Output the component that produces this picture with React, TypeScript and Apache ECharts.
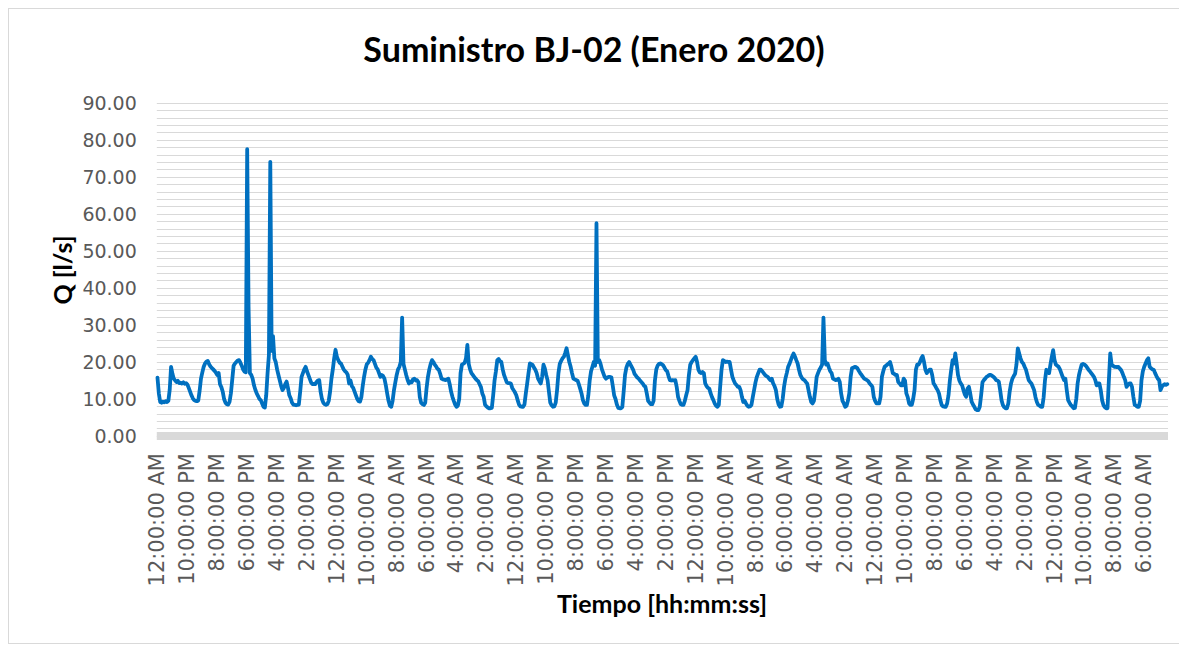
import React, { useEffect, useRef } from "react";
import * as echarts from "echarts";

// Hour-of-day tick labels (Excel time format)
const hourLabels = [
  "12:00:00 AM", "1:00:00 AM", "2:00:00 AM", "3:00:00 AM", "4:00:00 AM", "5:00:00 AM",
  "6:00:00 AM", "7:00:00 AM", "8:00:00 AM", "9:00:00 AM", "10:00:00 AM", "11:00:00 AM",
  "12:00:00 PM", "1:00:00 PM", "2:00:00 PM", "3:00:00 PM", "4:00:00 PM", "5:00:00 PM",
  "6:00:00 PM", "7:00:00 PM", "8:00:00 PM", "9:00:00 PM", "10:00:00 PM", "11:00:00 PM",
];

// Hourly flow Q [l/s], January 2020, one array per day
const ene01 = [15.8, 11.5, 9.2, 9.0, 9.3, 9.1, 9.4, 9.2, 9.5, 12.5, 18.7, 16.8, 15.5, 15.0, 14.6, 14.9, 14.3, 14.4, 14.2, 14.5, 14.1, 14.3, 13.9, 13.0];
const ene02 = [12.0, 11.0, 10.2, 9.7, 9.5, 9.4, 9.6, 12.2, 15.5, 17.2, 18.7, 19.6, 20.1, 20.3, 19.4, 18.8, 18.4, 18.0, 17.6, 17.1, 16.5, 17.0, 14.0, 13.2];
const ene03 = [12.0, 10.0, 9.0, 8.6, 8.5, 9.2, 11.5, 15.2, 19.0, 19.6, 20.0, 20.4, 20.5, 19.8, 19.0, 18.0, 17.4, 17.2, 77.5, 35.0, 17.0, 16.5, 15.5, 13.7];
const ene04 = [12.5, 11.5, 10.8, 10.0, 9.7, 8.8, 7.9, 7.7, 11.0, 17.0, 22.0, 74.1, 23.0, 27.0, 21.0, 20.0, 18.0, 16.5, 15.0, 13.5, 12.4, 13.0, 14.0, 14.7];
const ene05 = [13.0, 11.0, 10.2, 9.0, 8.5, 8.4, 8.3, 8.4, 8.5, 12.0, 16.0, 17.0, 18.0, 18.7, 17.5, 16.5, 15.5, 14.5, 14.0, 14.1, 14.0, 14.6, 15.0, 15.1];
const ene06 = [12.0, 10.0, 9.0, 8.6, 8.4, 8.6, 9.5, 12.0, 15.5, 18.0, 21.0, 23.3, 21.4, 20.5, 19.8, 19.6, 18.8, 18.0, 17.5, 17.2, 16.5, 14.2, 15.0, 13.5];
const ene07 = [13.0, 12.0, 11.0, 10.0, 9.4, 9.3, 10.5, 13.5, 16.0, 18.0, 19.4, 19.8, 20.5, 21.4, 20.8, 20.5, 19.5, 18.5, 18.0, 17.0, 16.0, 16.5, 16.2, 15.5];
const ene08 = [13.7, 11.5, 9.5, 8.2, 7.9, 9.5, 12.4, 14.5, 16.5, 18.0, 18.7, 20.0, 32.0, 19.5, 18.0, 16.5, 15.2, 14.2, 14.7, 14.5, 15.3, 15.5, 15.0, 15.1];
const ene09 = [14.5, 10.5, 9.0, 8.6, 8.4, 9.0, 13.0, 16.0, 18.0, 19.5, 20.5, 20.0, 19.3, 18.8, 18.2, 17.9, 16.8, 15.5, 15.3, 15.2, 15.1, 15.3, 15.5, 14.0];
const ene10 = [12.0, 10.6, 9.5, 8.5, 7.9, 8.2, 10.0, 17.0, 19.3, 19.5, 19.8, 21.0, 24.6, 19.5, 18.0, 17.0, 16.5, 16.0, 15.5, 15.1, 14.8, 14.0, 13.2, 11.5];
const ene11 = [10.6, 8.5, 8.0, 7.7, 7.5, 7.5, 7.6, 11.0, 15.0, 17.5, 20.5, 20.8, 20.2, 20.0, 18.0, 16.5, 15.5, 14.5, 14.3, 14.3, 14.2, 13.0, 12.4, 11.8];
const ene12 = [11.0, 9.7, 8.5, 8.0, 7.9, 7.9, 8.5, 11.5, 14.2, 17.0, 19.6, 19.4, 19.2, 18.5, 17.9, 17.0, 15.5, 14.8, 14.2, 16.0, 19.3, 18.3, 16.5, 15.1];
const ene13 = [12.0, 9.0, 8.3, 7.9, 8.0, 9.0, 12.4, 17.0, 19.5, 20.3, 21.0, 21.4, 22.5, 23.7, 21.8, 20.0, 18.7, 17.0, 15.5, 15.3, 15.1, 15.0, 14.0, 12.8];
const ene14 = [11.5, 9.7, 8.8, 8.4, 8.4, 11.0, 15.0, 17.5, 18.7, 20.0, 19.0, 57.5, 20.0, 20.5, 19.5, 18.0, 17.0, 16.0, 15.5, 15.8, 16.0, 16.0, 15.8, 13.5];
const ene15 = [11.0, 10.0, 8.5, 7.6, 7.5, 7.5, 7.8, 12.0, 16.5, 18.5, 19.5, 20.0, 19.3, 18.6, 17.9, 16.8, 16.3, 15.8, 15.5, 15.0, 14.6, 14.2, 13.6, 13.3];
const ene16 = [11.5, 9.5, 9.0, 8.6, 8.6, 9.5, 15.0, 18.0, 19.0, 19.5, 19.6, 19.4, 19.1, 18.5, 17.8, 17.5, 16.2, 15.1, 15.0, 15.1, 15.0, 15.1, 13.3, 10.6];
const ene17 = [9.5, 8.6, 8.4, 8.4, 9.5, 11.0, 12.4, 16.5, 19.3, 20.0, 20.5, 21.0, 21.4, 20.0, 17.9, 17.2, 17.0, 17.3, 17.0, 14.2, 13.5, 13.0, 12.8, 11.5];
const ene18 = [10.5, 9.7, 8.8, 8.2, 7.9, 8.4, 13.3, 17.9, 20.5, 20.3, 20.0, 20.1, 20.0, 20.0, 17.9, 16.0, 15.0, 14.2, 13.8, 13.3, 13.3, 12.4, 10.6, 9.2];
const ene19 = [9.5, 8.8, 8.2, 7.9, 8.0, 8.4, 10.5, 12.5, 14.5, 16.0, 17.0, 17.9, 17.9, 17.5, 17.0, 16.5, 16.2, 16.0, 15.5, 15.1, 15.5, 14.2, 13.5, 12.4];
const ene20 = [10.0, 8.5, 7.9, 8.0, 10.0, 13.3, 15.5, 17.0, 18.7, 19.5, 20.5, 21.5, 22.3, 21.5, 20.5, 19.6, 17.9, 16.5, 15.8, 15.3, 15.1, 14.6, 14.2, 12.4];
const ene21 = [10.6, 9.2, 8.8, 9.5, 12.4, 16.0, 17.0, 17.9, 18.5, 19.3, 32.0, 20.5, 19.3, 19.6, 18.5, 17.5, 17.0, 15.5, 15.3, 15.1, 15.2, 15.5, 14.6, 11.5];
const ene22 = [9.5, 8.8, 7.9, 8.2, 9.5, 11.5, 16.0, 18.3, 18.5, 18.7, 18.6, 18.3, 17.6, 17.0, 16.5, 16.0, 15.5, 15.3, 15.1, 14.8, 14.2, 13.8, 13.3, 10.6];
const ene23 = [9.5, 8.8, 8.8, 8.8, 10.6, 16.0, 17.5, 18.7, 19.0, 19.3, 19.6, 20.0, 18.7, 17.0, 16.8, 16.5, 16.5, 14.6, 14.2, 13.7, 13.7, 15.5, 15.0, 11.5];
const ene24 = [10.5, 8.8, 8.4, 8.4, 10.0, 12.4, 17.9, 19.3, 19.3, 20.0, 21.0, 21.6, 20.0, 17.9, 17.0, 17.5, 17.9, 17.9, 16.5, 14.2, 13.7, 13.0, 12.4, 11.5];
const ene25 = [9.7, 8.4, 8.0, 7.9, 7.9, 8.8, 11.0, 15.0, 17.9, 20.5, 19.6, 22.3, 19.6, 16.5, 15.0, 14.2, 13.7, 12.4, 11.2, 10.6, 12.8, 13.3, 11.5, 9.3];
const ene26 = [8.5, 7.9, 7.2, 7.0, 7.0, 7.9, 11.0, 14.5, 15.1, 15.5, 16.0, 16.2, 16.5, 16.5, 16.3, 16.0, 15.7, 15.1, 15.0, 14.7, 12.4, 9.7, 8.4, 7.8];
const ene27 = [7.5, 7.5, 8.8, 12.0, 14.2, 15.5, 16.2, 16.8, 19.3, 23.7, 22.3, 21.0, 20.0, 19.6, 18.7, 17.9, 16.5, 15.1, 14.6, 14.2, 13.3, 12.4, 10.5, 9.2];
const ene28 = [8.4, 8.2, 7.9, 7.9, 10.5, 15.1, 17.9, 17.5, 17.0, 19.3, 21.4, 23.2, 20.5, 19.3, 19.0, 18.7, 18.0, 17.0, 16.0, 15.1, 15.5, 12.4, 9.7, 9.0];
const ene29 = [8.4, 8.0, 7.5, 7.6, 10.0, 14.2, 16.5, 18.0, 19.3, 19.5, 19.3, 19.0, 18.5, 17.9, 17.5, 17.0, 16.5, 16.0, 15.1, 13.7, 14.2, 14.2, 12.4, 9.7];
const ene30 = [8.4, 7.8, 7.5, 7.5, 15.1, 22.3, 19.3, 19.0, 18.7, 18.7, 18.6, 18.7, 18.2, 17.8, 17.0, 16.0, 15.1, 13.3, 13.8, 14.2, 14.2, 13.3, 10.6, 8.4];
const ene31 = [8.2, 7.9, 7.9, 9.5, 15.1, 17.5, 18.7, 19.6, 20.5, 21.0, 18.7, 18.3, 18.0, 17.9, 17.0, 16.2, 15.5, 15.1, 12.4, 13.3, 13.7, 14.0, 13.8, 14.0];

const days = [
  ene01, ene02, ene03, ene04, ene05, ene06, ene07, ene08, ene09, ene10, ene11,
  ene12, ene13, ene14, ene15, ene16, ene17, ene18, ene19, ene20, ene21, ene22,
  ene23, ene24, ene25, ene26, ene27, ene28, ene29, ene30, ene31,
];

const categories: string[] = [];
days.forEach(() => hourLabels.forEach((h) => categories.push(h)));
const flow: number[] = days.flat();

const TITLE = "Suministro BJ-02 (Enero 2020)";
const Y_TITLE = "Q [l/s]";
const X_TITLE = "Tiempo [hh:mm:ss]";

export default function App() {
  const ref = useRef<HTMLDivElement>(null);

  useEffect(() => {
    if (!ref.current) return;
    const chart = echarts.init(ref.current, undefined, { renderer: "svg" });
    chart.setOption({
      animation: false,
      backgroundColor: "#ffffff",
      title: {
        text: TITLE,
        left: "center",
        top: 17,
        textStyle: { fontFamily: "Lato", fontWeight: "bold", fontSize: 34, color: "#000000" },
      },
      grid: { left: 147.8, right: 11, top: 94, bottom: 207, containLabel: false },
      xAxis: {
        type: "category",
        data: categories,
        boundaryGap: true,
        offset: 3,
        axisLine: { show: true, lineStyle: { color: "#d9d9d9", width: 8, cap: "butt" } },
        axisTick: { show: false },
        axisLabel: {
          interval: 21,
          rotate: 90,
          color: "#595959",
          fontSize: 21,
          fontFamily: "DejaVu Sans",
          margin: 14,
        },
        splitLine: { show: false },
      },
      yAxis: {
        type: "value",
        min: 0,
        max: 90,
        interval: 10,
        axisLine: { show: false },
        axisTick: { show: false },
        axisLabel: {
          color: "#595959",
          fontSize: 19,
          fontFamily: "DejaVu Sans",
          margin: 20,
          formatter: (v: number) => v.toFixed(2),
        },
        splitLine: { show: true, lineStyle: { color: "#d9d9d9", width: 1 } },
        minorTick: { show: false, splitNumber: 5 },
        minorSplitLine: { show: true, lineStyle: { color: "#d9d9d9", width: 1 } },
      },
      series: [
        {
          type: "line",
          data: flow,
          symbol: "none",
          showSymbol: false,
          lineStyle: { color: "#0070c0", width: 3.8, cap: "round", join: "round" },
          itemStyle: { color: "#0070c0" },
        },
      ],
      graphic: [
        {
          type: "text",
          x: 53,
          y: 261,
          rotation: Math.PI / 2,
          style: {
            text: Y_TITLE,
            fill: "#000000",
            font: "bold 25px Lato",
            textAlign: "center",
            textVerticalAlign: "middle",
          },
        },
        {
          type: "text",
          x: 653,
          y: 594,
          style: {
            text: X_TITLE,
            fill: "#000000",
            font: "bold 25px Lato",
            textAlign: "center",
            textVerticalAlign: "middle",
          },
        },
      ],
    });
    return () => chart.dispose();
  }, []);

  return (
    <div style={{ width: 1170, height: 634, border: "1px solid #d9d9d9" }}>
      <div ref={ref} style={{ width: 1170, height: 634 }} />
    </div>
  );
}
